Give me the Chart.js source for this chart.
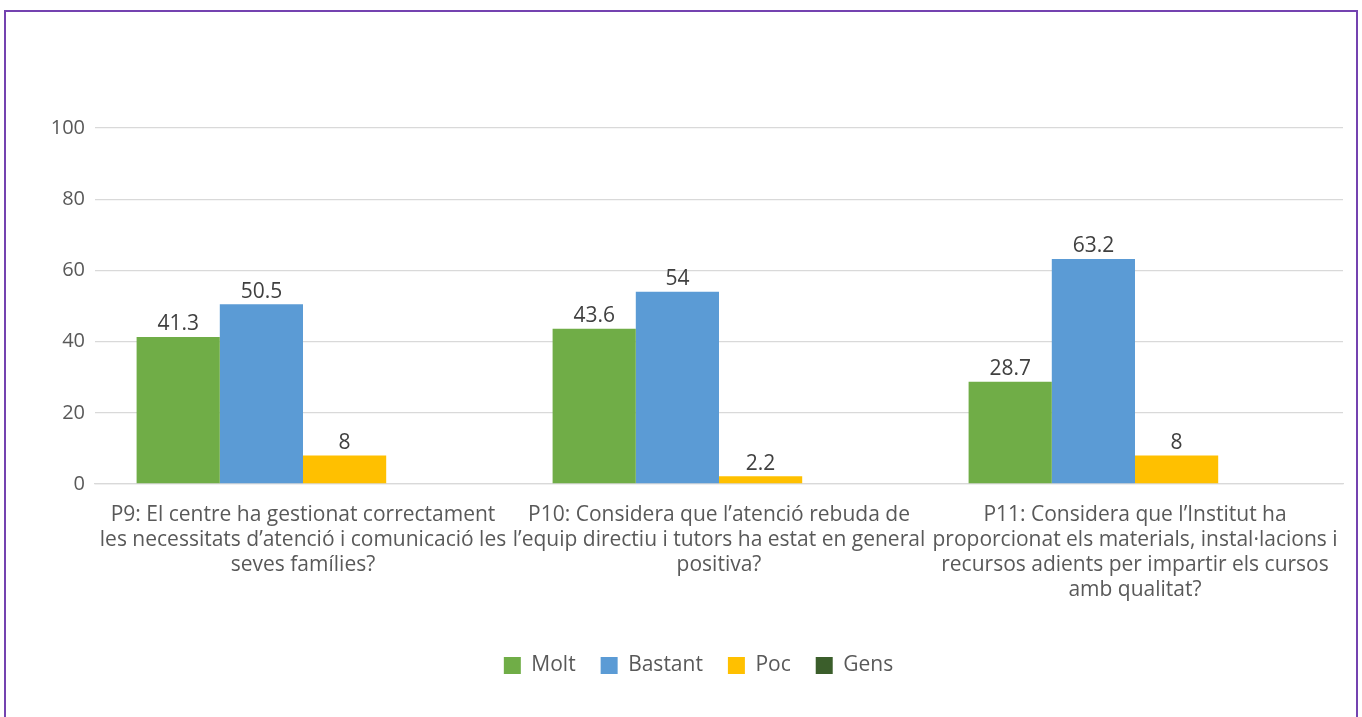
<!DOCTYPE html>
<html>
<head>
<meta charset="utf-8">
<script src="https://cdn.jsdelivr.net/npm/chart.js@4.4.0/dist/chart.umd.min.js"></script>
<style>
  html, body { margin: 0; padding: 0; background: #fff; overflow: hidden; }
  #wrap { position: absolute; left: 0; top: 0; width: 1362px; height: 717px; }
  #marc { position: absolute; left: 4px; top: 10px; width: 1354px; height: 720px;
          border: 2px solid #7443b0; box-sizing: border-box; pointer-events: none; }
</style>
</head>
<body>
<div id="wrap">
  <canvas id="grafic" width="1362" height="717"></canvas>
  <div id="marc"></div>
</div>
<script>
// Preguntes (categories)
const preguntes = [
  ["P9: El centre ha gestionat correctament", "les necessitats d’atenció i comunicació les", "seves famílies?"],
  ["P10: Considera que l’atenció rebuda de", "l’equip directiu i tutors ha estat en general", "positiva?"],
  ["P11: Considera que l’Institut ha", "proporcionat els materials, instal·lacions i", "recursos adients per impartir els cursos", "amb qualitat?"]
];
// Percentatges per resposta
const molt = [41.3, 43.6, 28.7];
const bastant = [50.5, 54, 63.2];
const poc = [8, 2.2, 8];
const gens = [null, null, null];
const ticksY = [0, 20, 40, 60, 80, 100];

const fontBase = "'Open Sans', 'DejaVu Sans', sans-serif";

// Etiquetes de valor sobre cada barra
const etiquetesValor = {
  id: 'etiquetesValor',
  afterDatasetsDraw(chart) {
    const ctx = chart.ctx;
    ctx.save();
    ctx.font = "21px " + fontBase;
    ctx.fillStyle = '#404040';
    ctx.textAlign = 'center';
    ctx.textBaseline = 'bottom';
    chart.data.datasets.forEach((ds, i) => {
      const meta = chart.getDatasetMeta(i);
      meta.data.forEach((bar, j) => {
        const v = ds.data[j];
        if (v === null || v === undefined) return;
        ctx.fillText(String(v), bar.x, bar.y - 2);
      });
    });
    ctx.restore();
  }
};

// La llegenda de l'original està una mica desplaçada a la dreta
const mouLlegenda = {
  id: 'mouLlegenda',
  afterLayout(chart) {
    if (chart.legend) {
      chart.legend.left += 27;
      chart.legend.right += 27;
    }
  }
};

const ctx = document.getElementById('grafic').getContext('2d');
const grafic = new Chart(ctx, {
  type: 'bar',
  data: {
    labels: preguntes,
    datasets: [
      { label: 'Molt', data: molt, backgroundColor: '#70ad47' },
      { label: 'Bastant', data: bastant, backgroundColor: '#5b9bd5' },
      { label: 'Poc', data: poc, backgroundColor: '#ffc000' },
      { label: 'Gens', data: gens, backgroundColor: '#3b5e2b' }
    ]
  },
  options: {
    responsive: false,
    animation: false,
    layout: { padding: { top: 128, right: 19, bottom: 31, left: 0 } },
    datasets: { bar: { barPercentage: 1, categoryPercentage: 0.8 } },
    scales: {
      y: {
        min: 0,
        max: 100,
        afterBuildTicks: (scale) => { scale.ticks = ticksY.map(v => ({ value: v })); },
        afterFit: (scale) => { scale.width = 95; },
        border: { display: false },
        grid: { color: '#d9d9d9', lineWidth: 1.3, drawTicks: false },
        ticks: { color: '#595959', font: { size: 20, family: fontBase }, padding: 10 }
      },
      x: {
        afterFit: (scale) => { scale.height = 146; },
        border: { color: '#d9d9d9', width: 1.3 },
        grid: { display: false },
        ticks: {
          color: '#595959',
          font: { size: 21, family: fontBase, lineHeight: 1.2 },
          maxRotation: 0,
          autoSkip: false,
          padding: 10
        }
      }
    },
    plugins: {
      legend: {
        position: 'bottom',
        labels: {
          color: '#595959',
          font: { size: 21, family: fontBase },
          boxWidth: 17,
          boxHeight: 17,
          padding: 25
        }
      },
      tooltip: { enabled: false }
    }
  },
  plugins: [etiquetesValor, mouLlegenda]
});
</script>
</body>
</html>
